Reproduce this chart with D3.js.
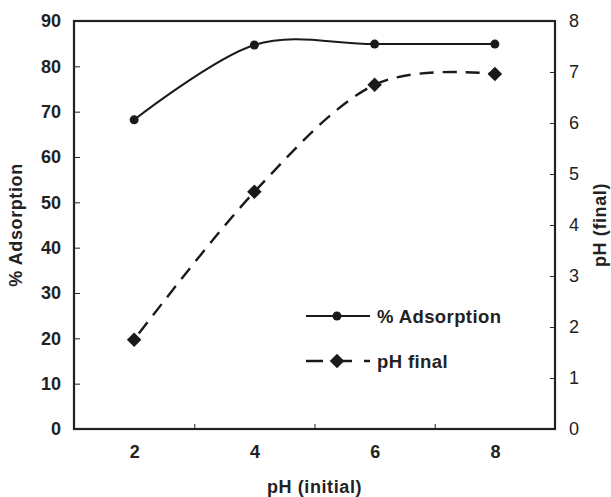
<!DOCTYPE html>
<html>
<head>
<meta charset="utf-8">
<script src="https://cdn.jsdelivr.net/npm/d3@7"></script>
<style>
  html, body { margin: 0; padding: 0; background: #fff; }
  svg { display: block; font-family: "Liberation Sans", Arial, sans-serif; }
</style>
</head>
<body>
<svg id="chart" width="611" height="497"></svg>
<script>
// Initial pH of the solution (x categories)
const phInitial = [2, 4, 6, 8];
// % adsorption at each initial pH (left axis)
const adsorption = [68.2, 84.7, 84.9, 84.9];
// Final pH reached at each initial pH (right axis)
const phFinal = [1.75, 4.65, 6.75, 6.96];
// Axis tick values
const leftTicks = [0, 10, 20, 30, 40, 50, 60, 70, 80, 90];
const rightTicks = [0, 1, 2, 3, 4, 5, 6, 7, 8];
const xLabelTicks = [2, 4, 6, 8];
const xMarkTicks = [3, 5, 7];

const svg = d3.select("#chart");
const L = 74, R = 555, T = 21, B = 429;
const ink = "#1a1a1a";

const x = d3.scaleLinear().domain([1, 9]).range([L, R]);
const yL = d3.scaleLinear().domain([0, 90]).range([B, T]);
const yR = d3.scaleLinear().domain([0, 8]).range([B, T]);

// Left axis: bold labels, inward ticks
const gL = svg.append("g").attr("transform", `translate(${L},0)`)
  .call(d3.axisLeft(yL).tickValues(leftTicks).tickSizeInner(-6).tickSizeOuter(0).tickPadding(13));
gL.selectAll("text").attr("font-size", 18).attr("font-weight", "bold").attr("fill", "#222");

// Right axis: regular labels, inward ticks
const gR = svg.append("g").attr("transform", `translate(${R},0)`)
  .call(d3.axisRight(yR).tickValues(rightTicks).tickSizeInner(-5).tickSizeOuter(0).tickPadding(14));
gR.selectAll("text").attr("font-size", 18).attr("fill", "#222");

// Bottom axis: inward tick marks between categories
svg.append("g").attr("transform", `translate(0,${B})`)
  .call(d3.axisBottom(x).tickValues(xMarkTicks).tickSizeInner(-5).tickSizeOuter(0).tickFormat(""));
// Category labels
const gBL = svg.append("g").attr("transform", `translate(0,${B})`)
  .call(d3.axisBottom(x).tickValues(xLabelTicks).tickSize(0).tickPadding(16));
gBL.select(".domain").remove();
gBL.selectAll("text").attr("font-size", 18).attr("font-weight", "bold").attr("fill", "#222");

svg.selectAll(".domain").attr("stroke", "none");
svg.selectAll(".tick line").attr("stroke", "#222").attr("stroke-width", 1);

// Plot frame
svg.append("rect").attr("x", L).attr("y", T).attr("width", R - L).attr("height", B - T)
  .attr("fill", "none").attr("stroke", "#222").attr("stroke-width", 2.2);

// Axis titles
const titleStyle = sel => sel.attr("text-anchor", "middle").attr("font-size", 18)
  .attr("font-weight", "bold").attr("letter-spacing", 0.6).attr("fill", "#222");
svg.append("text").attr("x", (L + R) / 2).attr("y", 493).call(titleStyle).text("pH (initial)");
svg.append("text").attr("transform", `translate(22,${(T + B) / 2}) rotate(-90)`)
  .call(titleStyle).text("% Adsorption");
svg.append("text").attr("transform", `translate(606,${(T + B) / 2}) rotate(-90)`)
  .call(titleStyle).text("pH (final)");

const curve = d3.curveCatmullRom.alpha(0);

// % Adsorption series: smooth solid line with circle markers
const adsLine = d3.line().x((d, i) => x(phInitial[i])).y(d => yL(d)).curve(curve);
svg.append("path").datum(adsorption).attr("d", adsLine)
  .attr("fill", "none").attr("stroke", ink).attr("stroke-width", 2);
svg.selectAll(".ads-pt").data(adsorption).join("circle")
  .attr("cx", (d, i) => x(phInitial[i])).attr("cy", d => yL(d)).attr("r", 4.5).attr("fill", ink);

// pH final series: smooth dashed line with diamond markers
const phLine = d3.line().x((d, i) => x(phInitial[i])).y(d => yR(d)).curve(curve);
svg.append("path").datum(phFinal).attr("d", phLine)
  .attr("fill", "none").attr("stroke", ink).attr("stroke-width", 2.4)
  .attr("stroke-dasharray", "14,9").attr("stroke-dashoffset", -8);
const diamond = d3.symbol().type(d3.symbolSquare).size(105);
svg.selectAll(".ph-pt").data(phFinal).join("path")
  .attr("transform", (d, i) => `translate(${x(phInitial[i])},${yR(d)}) rotate(45)`)
  .attr("d", diamond).attr("fill", ink);

// Legend
const legend = svg.append("g");
const legendText = sel => sel.attr("font-size", 18.5).attr("font-weight", "bold")
  .attr("letter-spacing", 0.4).attr("fill", "#222");
legend.append("line").attr("x1", 306).attr("x2", 370).attr("y1", 316).attr("y2", 316)
  .attr("stroke", ink).attr("stroke-width", 2);
legend.append("circle").attr("cx", 337).attr("cy", 316).attr("r", 4.5).attr("fill", ink);
legend.append("text").attr("x", 377).attr("y", 323).call(legendText).text("% Adsorption");
legend.append("line").attr("x1", 306).attr("x2", 370).attr("y1", 361).attr("y2", 361)
  .attr("stroke", ink).attr("stroke-width", 2.4).attr("stroke-dasharray", "17,12");
legend.append("path").attr("transform", "translate(337,361) rotate(45)")
  .attr("d", diamond).attr("fill", ink);
legend.append("text").attr("x", 377).attr("y", 368).call(legendText).text("pH final");
</script>
</body>
</html>
